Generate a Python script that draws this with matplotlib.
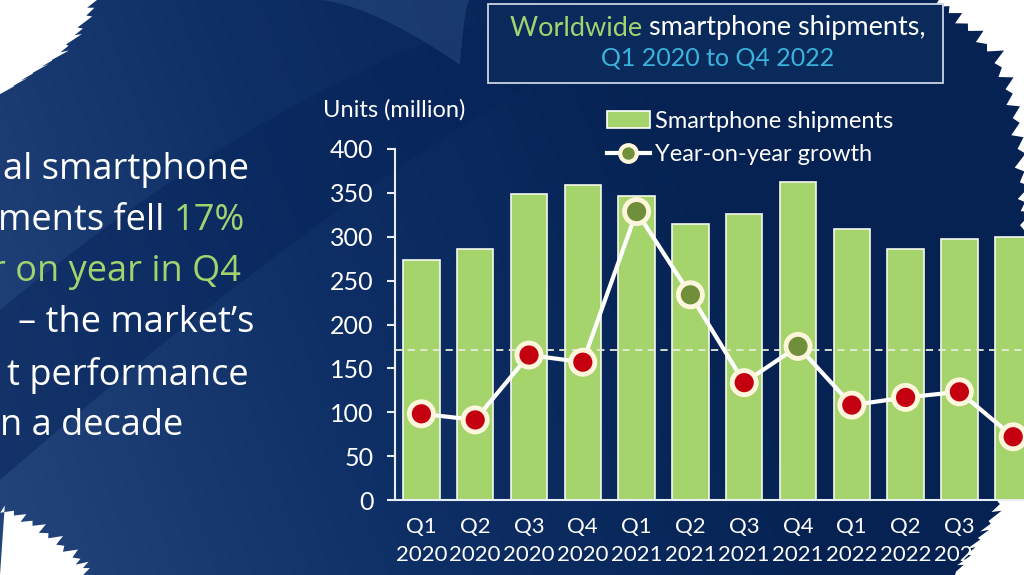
import numpy as np
import matplotlib
matplotlib.use("Agg")
import matplotlib.pyplot as plt
from matplotlib.patches import Polygon, Rectangle, Patch
from matplotlib.lines import Line2D
from matplotlib.offsetbox import TextArea, HPacker, AnnotationBbox

# ---------------- data ----------------
quarters = ["Q1", "Q2", "Q3", "Q4", "Q1", "Q2", "Q3", "Q4", "Q1", "Q2", "Q3", "Q4"]
years = ["2020", "2020", "2020", "2020", "2021", "2021", "2021", "2021",
         "2022", "2022", "2022", "2022"]
shipments = [273, 286, 349, 359, 347, 315, 326, 362, 309, 286, 297, 300]   # million units
yoy_growth = [-12.5, -13.7, -1.0, -2.4, 27.1, 10.8, -6.4, 0.7, -10.8, -9.3, -8.2, -17.0]  # %
y_ticks = [0, 50, 100, 150, 200, 250, 300, 350, 400]

plt.rcParams['font.family'] = ['Lato', 'DejaVu Sans']

W, H = 1024, 575
fig = plt.figure(figsize=(W / 100, H / 100), dpi=100)

BAR_GREEN = "#a6d46c"
TXT_GREEN = "#a2d36e"
CYAN = "#3ab4dc"
RED = "#c40010"
OLIVE = "#6f8f3a"
CREAM = "#fdf6dc"

# ---------------- background ----------------
bg = fig.add_axes([0, 0, 1, 1], zorder=-10)
bg.set_xlim(0, W)
bg.set_ylim(H, 0)
bg.axis("off")
xs = np.linspace(0, 1, 256)
ys = np.linspace(0, 1, 144)
X, Y = np.meshgrid(xs, ys)
c_left = np.array([0x24, 0x45, 0x7c]) / 255
c_mid = np.array([0x0e, 0x2f, 0x66]) / 255
c_right = np.array([0x05, 0x22, 0x52]) / 255
t = np.clip(X * 1.2 + (1 - Y) * 0.25, 0, 1)[..., None]
img = np.where(t < 0.5, c_left + (c_mid - c_left) * (t / 0.5),
               c_mid + (c_right - c_mid) * ((t - 0.5) / 0.5))
bg.imshow(img, extent=[0, W, H, 0], aspect="auto", zorder=0)

# darker swoosh band (curved)
tt = np.linspace(0, 1, 40)
top_edge = [(0 + 600 * s, 310 - 310 * (1 - (1 - s) ** 1.6)) for s in tt]
bot_edge = [(720 - 720 * s, 0 + 480 * s ** 1.3) for s in tt]
bg.add_patch(Polygon(top_edge + bot_edge, closed=True, facecolor="#07245a", alpha=0.5,
                     edgecolor="none", zorder=1))
# light blade near top (thin crescent)
blade_a = [(320 + 140 * s, 0 + 65 * s ** 1.5) for s in tt]
bg.add_patch(Polygon(blade_a + [(460, 65)] + [(470 - 10 * (1 - s), 65 * (1 - s) ** 2) for s in tt],
                     closed=True, facecolor="#2f5288", alpha=0.45, edgecolor="none", zorder=1))


def jag(points, amp, n_sub=6):
    out = []
    k = 0
    for (x0, y0), (x1, y1) in zip(points[:-1], points[1:]):
        for j in range(n_sub):
            f = j / n_sub
            x = x0 + (x1 - x0) * f
            y = y0 + (y1 - y0) * f
            d = amp * (1 if k % 2 == 0 else -0.6) * (0.6 + 0.4 * np.sin(k * 1.7))
            out.append((x + d, y - d * 0.5))
            k += 1
    out.append(points[-1])
    return out

# white brush strokes
tl = jag([(95, 0), (80, 30), (60, 55), (30, 75), (0, 95)], 9)
bg.add_patch(Polygon([(0, 0)] + tl, closed=True, facecolor="white", edgecolor="none", zorder=2))
bl = jag([(0, 508), (30, 522), (55, 540), (78, 560), (90, 575)], 8)
bg.add_patch(Polygon(bl + [(0, 575)], closed=True, facecolor="white", edgecolor="none", zorder=2))
rt = jag([(935, 0), (965, 25), (995, 55), (1010, 95), (1018, 140), (1022, 190), (1024, 230)], 9)
bg.add_patch(Polygon(rt + [(1024, 0)], closed=True, facecolor="white", edgecolor="none", zorder=2))
rb = jag([(1024, 440), (1016, 470), (1003, 495), (988, 525), (970, 550), (955, 575)], 9)
bg.add_patch(Polygon(rb + [(1024, 575)], closed=True, facecolor="white", edgecolor="none", zorder=2))

# left narrative text (cropped in the source)
LEFT_FONT = dict(family=['Open Sans', 'DejaVu Sans'], fontsize=26)
left_lines = [
    (170, [("al smartphone", "white")], 249),
    (221, [("ments fell ", "white"), ("17%", TXT_GREEN)], 245),
    (272, [("r on year in Q4", TXT_GREEN)], 241),
    (323, [("\u2013 the market\u2019s", "white")], 254),
    (375, [("t performance", "white")], 249),
    (426, [("n a decade", "white")], 183),
]
for y, parts, xr in left_lines:
    areas = [TextArea(s, textprops=dict(color=c, **LEFT_FONT)) for s, c in parts]
    box = HPacker(children=areas, pad=0, sep=0, align="baseline")
    ab = AnnotationBbox(box, (xr, y), xycoords="data", box_alignment=(1, 0.5),
                        frameon=False, pad=0)
    bg.add_artist(ab)

# title box
bg.add_patch(Rectangle((488, 4), 455, 79, facecolor="#0a2a5c", edgecolor="#c9d3e3",
                       lw=1.3, zorder=3))
t1 = HPacker(children=[TextArea("Worldwide ", textprops=dict(color=TXT_GREEN, fontsize=19.5)),
                       TextArea("smartphone shipments,", textprops=dict(color="white", fontsize=19.5))],
             pad=0, sep=0, align="baseline")
bg.add_artist(AnnotationBbox(t1, (718, 28), xycoords="data", frameon=False, pad=0, zorder=4))
bg.text(718, 58, "Q1 2020 to Q4 2022", color=CYAN, fontsize=18, ha="center", va="center", zorder=4)

# ---------------- chart ----------------
spacing = 53.8
left_px, bottom_px = 394.5, 500
top_px = 149
ax = fig.add_axes([left_px / W, (H - bottom_px) / H, 12 * spacing / W, (bottom_px - top_px) / H])
ax.patch.set_alpha(0)
x = np.arange(len(shipments))
ax.bar(x, shipments, width=0.68, color=BAR_GREEN, edgecolor="#f4f8ee", linewidth=1.2, zorder=2,
       label="Smartphone shipments")
ax.set_xlim(-0.5, 11.5)
ax.set_ylim(0, 400)
ax.set_yticks(y_ticks)
ax.set_xticks(x)
ax.set_xticklabels([f"{q}\n{yr}" for q, yr in zip(quarters, years)], linespacing=1.55)
for s in ["top", "right"]:
    ax.spines[s].set_visible(False)
for s in ["left", "bottom"]:
    ax.spines[s].set_color("#e8eef6")
    ax.spines[s].set_linewidth(1.5)
ax.tick_params(axis="y", colors="#e8eef6", labelcolor="white", labelsize=18, length=6, width=1.5, pad=9)
ax.tick_params(axis="x", length=0, labelcolor="white", labelsize=16, pad=12)
fig.text(323 / W, 1 - 110 / H, "Units (million)", color="white", fontsize=17, va="center", ha="left")

ax2 = ax.twinx()
ax2.set_ylim(-171 / 5.82, 229 / 5.82)
ax2.axis("off")
ax2.axhline(0, color="#e6ecd8", lw=1.3, ls=(0, (4, 3)), zorder=3)
ax2.plot(x, yoy_growth, color="white", lw=3, zorder=4)
face = [OLIVE if g >= 0 else RED for g in yoy_growth]
ax2.scatter(x, yoy_growth, s=300, c=face, edgecolors=CREAM, linewidths=3.5, zorder=5)

handles = [Patch(facecolor=BAR_GREEN, edgecolor="white", lw=1.2),
           Line2D([0], [0], color="white", lw=3, marker="o", markersize=12,
                  markerfacecolor=OLIVE, markeredgecolor=CREAM, markeredgewidth=3)]
fig.legend(handles, ["Smartphone shipments", "Year-on-year growth"], loc="upper left",
           bbox_to_anchor=(607 / W, 1 - 111 / H), frameon=False, fontsize=17,
           labelcolor="white", handlelength=1.8, handletextpad=0.25, labelspacing=0.5,
           borderpad=0, borderaxespad=0)

fig.savefig("out.png", dpi=100)
